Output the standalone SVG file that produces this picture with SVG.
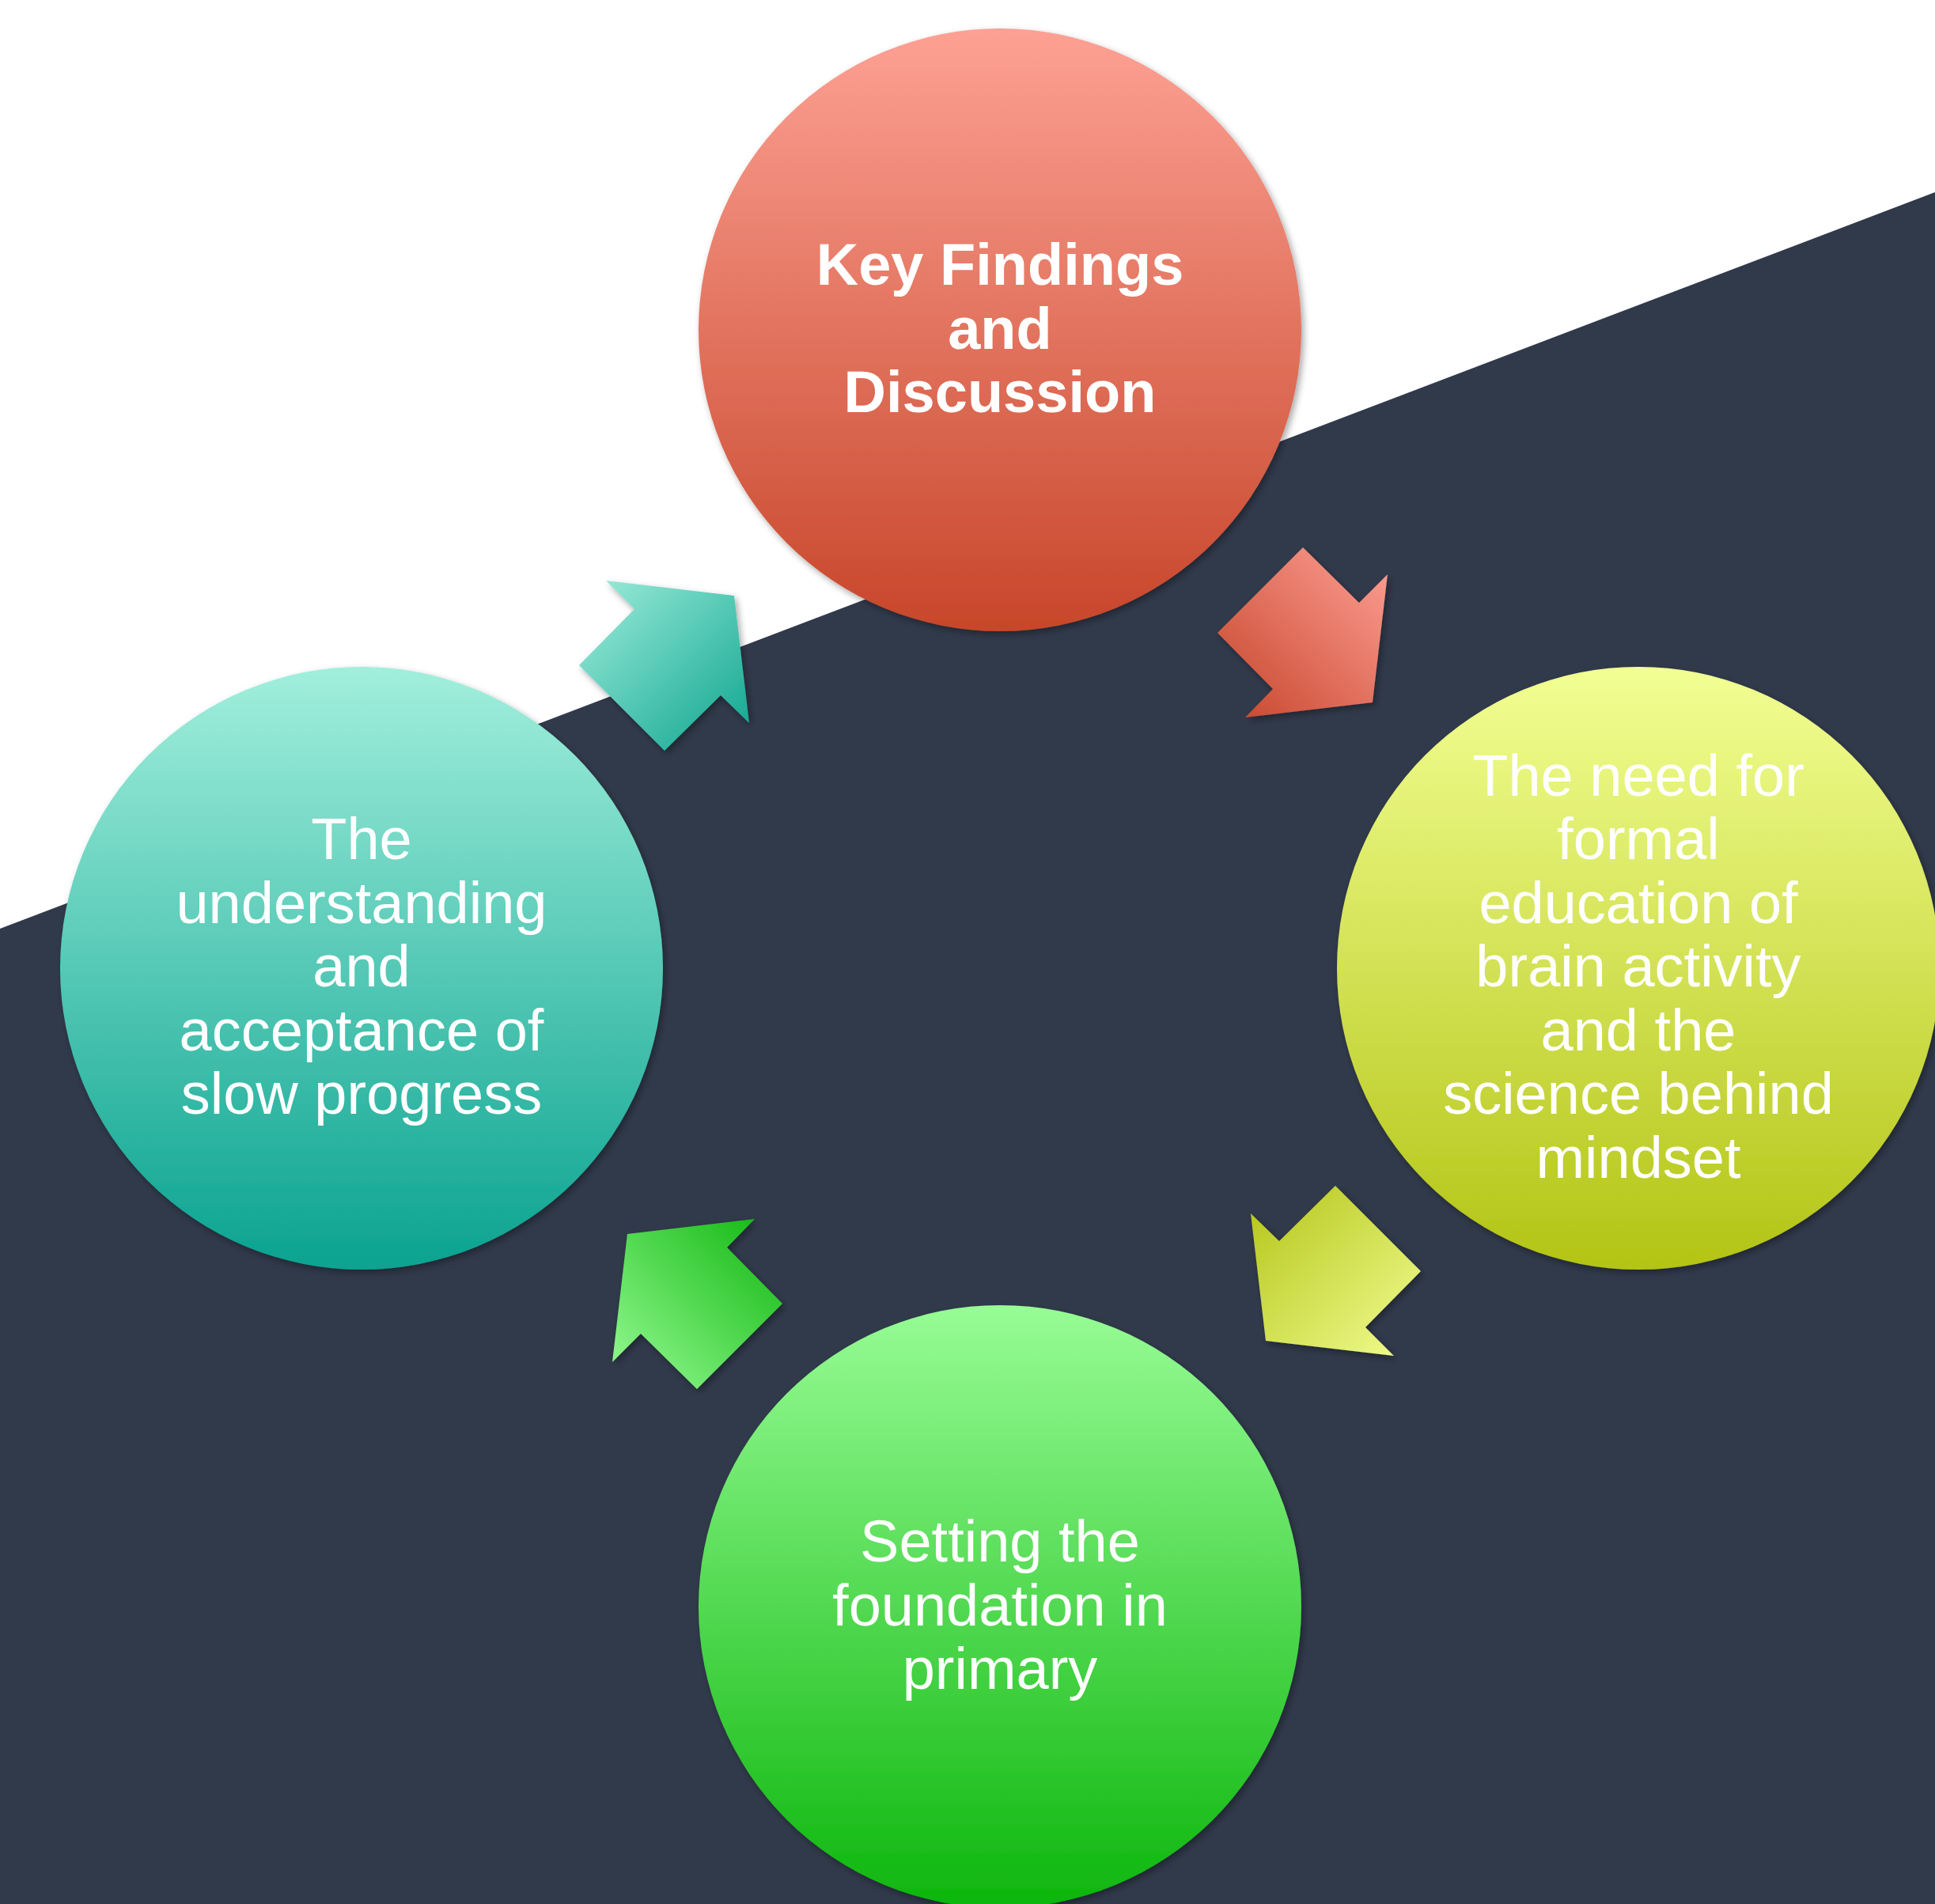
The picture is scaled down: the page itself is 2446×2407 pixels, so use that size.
<svg xmlns="http://www.w3.org/2000/svg" width="2446" height="2407" viewBox="0 0 2446 2407">
  <style>
    .label { font-family: "Liberation Sans", Arial, sans-serif; fill: #ffffff; text-anchor: middle; font-size: 74px; }
    .bold { font-weight: bold; font-size: 74px; }
  </style>
  <defs>
    <filter id="shadow" x="-10%" y="-10%" width="125%" height="125%">
      <feDropShadow dx="3" dy="4" stdDeviation="4" flood-color="#000000" flood-opacity="0.35"/>
    </filter>
    <!-- circle fills: light at top, dark at bottom -->
    <linearGradient id="gTop" x1="0" y1="0" x2="0" y2="1">
      <stop offset="0" stop-color="#fda194"/>
      <stop offset="1" stop-color="#c7462a"/>
    </linearGradient>
    <linearGradient id="gRight" x1="0" y1="0" x2="0" y2="1">
      <stop offset="0" stop-color="#f2ff93"/>
      <stop offset="1" stop-color="#b3c415"/>
    </linearGradient>
    <linearGradient id="gBottom" x1="0" y1="0" x2="0" y2="1">
      <stop offset="0" stop-color="#97fc95"/>
      <stop offset="1" stop-color="#0db60d"/>
    </linearGradient>
    <linearGradient id="gLeft" x1="0" y1="0" x2="0" y2="1">
      <stop offset="0" stop-color="#a1efdc"/>
      <stop offset="1" stop-color="#0aa390"/>
    </linearGradient>
    <!-- arrow fills: light toward the head, dark toward the tail (local frame) -->
    <linearGradient id="aRed" x1="1" y1="0" x2="0" y2="1">
      <stop offset="0" stop-color="#fea196"/>
      <stop offset="1" stop-color="#c6442a"/>
    </linearGradient>
    <linearGradient id="aYellow" x1="1" y1="0" x2="0" y2="1">
      <stop offset="0" stop-color="#f2fe93"/>
      <stop offset="1" stop-color="#b3c416"/>
    </linearGradient>
    <linearGradient id="aGreen" x1="1" y1="0" x2="0" y2="1">
      <stop offset="0" stop-color="#98fc95"/>
      <stop offset="1" stop-color="#0fb60f"/>
    </linearGradient>
    <linearGradient id="aTeal" x1="1" y1="0" x2="0" y2="1">
      <stop offset="0" stop-color="#a0eedb"/>
      <stop offset="1" stop-color="#0ca48f"/>
    </linearGradient>
    <!-- arrow shape relative to the cycle centre -->
    <polygon id="arrowShape" points="383,-532 454,-462 490,-498 471,-336 310,-317 345,-353 275,-424"/>
  </defs>

  <!-- backdrop: white with a dark diagonal band -->
  <rect x="0" y="0" width="2446" height="2407" fill="#ffffff"/>
  <polygon points="0,1174 2446,243 2446,2407 0,2407" fill="#313a4b"/>

  <!-- connectors: cycle arrows -->
  <g id="connectors">
    <g filter="url(#shadow)">
      <use href="#arrowShape" fill="url(#aRed)" transform="translate(1264 1224)"/>
    </g>
    <g filter="url(#shadow)">
      <use href="#arrowShape" fill="url(#aYellow)" transform="translate(1264 1224) rotate(90)"/>
    </g>
    <g filter="url(#shadow)">
      <use href="#arrowShape" fill="url(#aGreen)" transform="translate(1264 1224) rotate(180)"/>
    </g>
    <g filter="url(#shadow)">
      <use href="#arrowShape" fill="url(#aTeal)" transform="translate(1264 1224) rotate(270)"/>
    </g>
  </g>

  <g id="node-key-findings">
    <circle cx="1264" cy="417" r="381" fill="url(#gTop)" filter="url(#shadow)"/>
    <text class="label bold" x="1264" y="360">Key Findings</text>
    <text class="label bold" x="1264" y="441">and</text>
    <text class="label bold" x="1264" y="521">Discussion</text>
  </g>

  <g id="node-formal-education">
    <circle cx="2071" cy="1224" r="381" fill="url(#gRight)" filter="url(#shadow)"/>
    <text class="label" x="2071" y="1006">The need for</text>
    <text class="label" x="2071" y="1086">formal</text>
    <text class="label" x="2071" y="1167">education of</text>
    <text class="label" x="2071" y="1247">brain activity</text>
    <text class="label" x="2071" y="1328">and the</text>
    <text class="label" x="2071" y="1408">science behind</text>
    <text class="label" x="2071" y="1489">mindset</text>
  </g>

  <g id="node-foundation">
    <circle cx="1264" cy="2031" r="381" fill="url(#gBottom)" filter="url(#shadow)"/>
    <text class="label" x="1264" y="1974">Setting the</text>
    <text class="label" x="1264" y="2055">foundation in</text>
    <text class="label" x="1264" y="2135">primary</text>
  </g>

  <g id="node-slow-progress">
    <circle cx="457" cy="1224" r="381" fill="url(#gLeft)" filter="url(#shadow)"/>
    <text class="label" x="457" y="1086">The</text>
    <text class="label" x="457" y="1167">understanding</text>
    <text class="label" x="457" y="1247">and</text>
    <text class="label" x="457" y="1328">acceptance of</text>
    <text class="label" x="457" y="1408">slow progress</text>
  </g>
</svg>
